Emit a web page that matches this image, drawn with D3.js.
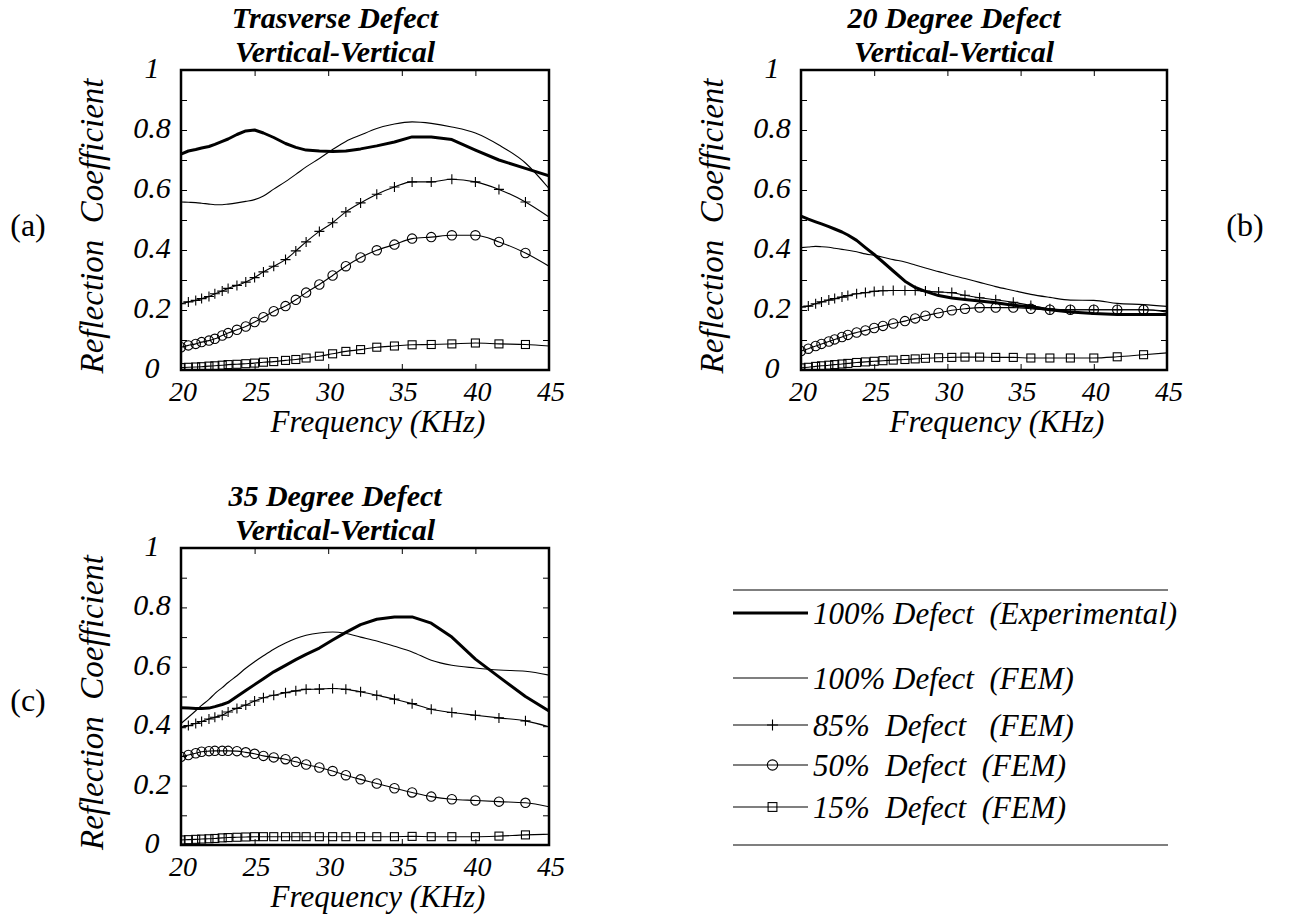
<!DOCTYPE html>
<html>
<head>
<meta charset="utf-8">
<script src="https://cdn.jsdelivr.net/npm/d3@7"></script>
</head>
<body style="margin:0;background:#fff">
<svg id="fig" width="1290" height="920" style="display:block"></svg>
<script>
// Frequency sample points (kHz); markers sit on every point except the last.
const freqKHz = [20, 20.5, 21, 21.4, 21.9, 22.3, 22.8, 23.2, 23.8, 24.4, 25, 25.6, 26.3, 27.1, 27.8,
                 28.5, 29.4, 30.3, 31.2, 32.2, 33.3, 34.5, 35.7, 37, 38.4, 40, 41.6, 43.4, 45];

// Axis ticks
const xTickValues = [20, 25, 30, 35, 40, 45];
const yTickValues = [0, 0.1, 0.2, 0.3, 0.4, 0.5, 0.6, 0.7, 0.8, 0.9, 1];
const yLabelValues = [0, 0.2, 0.4, 0.6, 0.8, 1];
const yLabelText = ["0", "0.2", "0.4", "0.6", "0.8", "1"];

// (a) Transverse defect
const expA    = [0.72, 0.73, 0.735, 0.74, 0.745, 0.752, 0.762, 0.77, 0.785, 0.797, 0.80, 0.79, 0.775, 0.755, 0.742,
                 0.733, 0.73, 0.728, 0.73, 0.737, 0.747, 0.76, 0.777, 0.777, 0.768, 0.733, 0.70, 0.672, 0.647];
const fem100A = [0.56, 0.559, 0.558, 0.556, 0.553, 0.551, 0.551, 0.553, 0.557, 0.562, 0.568, 0.58, 0.603, 0.628, 0.652,
                 0.677, 0.705, 0.735, 0.762, 0.783, 0.805, 0.82, 0.827, 0.822, 0.81, 0.79, 0.75, 0.69, 0.605];
const fem85A  = [0.221, 0.227, 0.232, 0.238, 0.245, 0.254, 0.263, 0.272, 0.282, 0.293, 0.308, 0.327, 0.346, 0.368, 0.397,
                 0.427, 0.462, 0.491, 0.527, 0.557, 0.586, 0.61, 0.627, 0.627, 0.636, 0.627, 0.602, 0.56, 0.51];
const fem50A  = [0.076, 0.082, 0.087, 0.093, 0.098, 0.104, 0.115, 0.123, 0.134, 0.145, 0.16, 0.176, 0.196, 0.213, 0.234,
                 0.258, 0.285, 0.315, 0.346, 0.375, 0.399, 0.418, 0.438, 0.443, 0.449, 0.449, 0.427, 0.39, 0.346];
const fem15A  = [0.008, 0.009, 0.01, 0.011, 0.013, 0.014, 0.016, 0.018, 0.019, 0.021, 0.023, 0.026, 0.028, 0.032, 0.035,
                 0.04, 0.046, 0.054, 0.062, 0.068, 0.076, 0.08, 0.084, 0.085, 0.087, 0.09, 0.087, 0.085, 0.08];

// (b) 20 degree defect
const expB    = [0.513, 0.503, 0.494, 0.487, 0.478, 0.47, 0.46, 0.45, 0.432, 0.408, 0.385, 0.36, 0.33, 0.296, 0.275,
                 0.262, 0.248, 0.24, 0.235, 0.23, 0.224, 0.216, 0.21, 0.201, 0.193, 0.188, 0.185, 0.185, 0.185];
const fem100B = [0.408, 0.41, 0.412, 0.411, 0.409, 0.406, 0.402, 0.399, 0.394, 0.387, 0.382, 0.376, 0.368, 0.36, 0.35,
                 0.34, 0.328, 0.316, 0.305, 0.292, 0.278, 0.265, 0.252, 0.242, 0.233, 0.232, 0.222, 0.218, 0.212];
const fem85B  = [0.21, 0.213, 0.221, 0.227, 0.233, 0.238, 0.243, 0.248, 0.254, 0.258, 0.262, 0.264, 0.265, 0.265, 0.265,
                 0.263, 0.26, 0.258, 0.249, 0.241, 0.234, 0.226, 0.215, 0.204, 0.201, 0.201, 0.201, 0.201, 0.196];
const fem50B  = [0.063, 0.071, 0.08, 0.087, 0.095, 0.102, 0.11, 0.117, 0.125, 0.132, 0.14, 0.147, 0.155, 0.163, 0.172,
                 0.181, 0.19, 0.199, 0.204, 0.208, 0.208, 0.208, 0.204, 0.201, 0.201, 0.201, 0.201, 0.201, 0.193];
const fem15B  = [0.007, 0.009, 0.012, 0.014, 0.016, 0.018, 0.02, 0.022, 0.025, 0.027, 0.029, 0.031, 0.033, 0.035, 0.037,
                 0.039, 0.041, 0.042, 0.043, 0.043, 0.042, 0.042, 0.04, 0.04, 0.04, 0.04, 0.044, 0.051, 0.057];

// (c) 35 degree defect
const expC    = [0.462, 0.461, 0.46, 0.46, 0.461, 0.466, 0.473, 0.48, 0.50, 0.52, 0.54, 0.56, 0.583, 0.605, 0.624,
                 0.642, 0.663, 0.69, 0.716, 0.742, 0.76, 0.768, 0.768, 0.747, 0.70, 0.626, 0.566, 0.5, 0.451];
const fem100C = [0.409, 0.43, 0.452, 0.47, 0.49, 0.51, 0.53, 0.547, 0.57, 0.595, 0.617, 0.637, 0.659, 0.68, 0.695,
                 0.706, 0.714, 0.717, 0.712, 0.70, 0.687, 0.669, 0.65, 0.622, 0.605, 0.596, 0.589, 0.585, 0.572];
const fem85C  = [0.395, 0.402, 0.409, 0.416, 0.424, 0.43, 0.437, 0.448, 0.46, 0.471, 0.485, 0.496, 0.504, 0.513, 0.519,
                 0.524, 0.525, 0.527, 0.524, 0.516, 0.504, 0.491, 0.476, 0.457, 0.446, 0.437, 0.428, 0.418, 0.398];
const fem50C  = [0.297, 0.303, 0.309, 0.314, 0.316, 0.317, 0.317, 0.317, 0.316, 0.312, 0.307, 0.30, 0.295, 0.289, 0.28,
                 0.271, 0.261, 0.249, 0.235, 0.221, 0.207, 0.191, 0.177, 0.163, 0.154, 0.15, 0.146, 0.142, 0.129];
const fem15C  = [0.017, 0.018, 0.019, 0.02, 0.021, 0.022, 0.024, 0.025, 0.026, 0.027, 0.028, 0.028, 0.028, 0.028, 0.028,
                 0.028, 0.028, 0.028, 0.028, 0.028, 0.028, 0.028, 0.029, 0.028, 0.028, 0.028, 0.03, 0.034, 0.036];

// Legend entries; \u00A0 keeps the wider word gaps
const seriesLabels = ["100% Defect\u00A0 (Experimental)", "100% Defect\u00A0 (FEM)", "85%\u00A0 Defect\u00A0\u00A0 (FEM)",
                      "50%\u00A0 Defect\u00A0 (FEM)", "15%\u00A0 Defect\u00A0 (FEM)"];
const seriesMarkers = ["none", "none", "plus", "circle", "square"];
const yTitle = "Reflection\u00A0 Coefficient";
const xTitle = "Frequency (KHz)";

const panels = [
  { tag: "(a)", title: ["Trasverse Defect", "Vertical-Vertical"], series: [expA, fem100A, fem85A, fem50A, fem15A],
    left: 181, top: 70, width: 368, height: 300, tagX: 28, tagY: 236 },
  { tag: "(b)", title: ["20 Degree Defect", "Vertical-Vertical"], series: [expB, fem100B, fem85B, fem50B, fem15B],
    left: 801, top: 70, width: 366, height: 300, tagX: 1245, tagY: 236 },
  { tag: "(c)", title: ["35 Degree Defect", "Vertical-Vertical"], series: [expC, fem100C, fem85C, fem50C, fem15C],
    left: 181, top: 548, width: 368, height: 297, tagX: 28, tagY: 711 }
];

const svg = d3.select("#fig");

function addText(parent, size, opts = {}) {
  return parent.append("text")
    .attr("font-family", "Liberation Serif")
    .attr("font-size", size)
    .attr("font-style", opts.italic === false ? "normal" : "italic")
    .attr("font-weight", opts.bold ? "bold" : "normal")
    .attr("fill", "#000");
}

function drawMarker(sel, type, r = 1) {
  if (type === "plus") {
    sel.append("path").attr("d", `M${-5 * r},0H${5 * r}M0,${-5 * r}V${5 * r}`)
      .attr("stroke", "#000").attr("stroke-width", 1.1).attr("fill", "none");
  } else if (type === "circle") {
    sel.append("circle").attr("r", 4.7 * r).attr("fill", "none").attr("stroke", "#000").attr("stroke-width", 1.1);
  } else if (type === "square") {
    sel.append("rect").attr("x", -4 * r).attr("y", -4 * r).attr("width", 8 * r).attr("height", 8 * r)
      .attr("fill", "none").attr("stroke", "#000").attr("stroke-width", 1.1);
  }
}

panels.forEach((p, pi) => {
  const x = d3.scaleLinear().domain([20, 45]).range([p.left, p.left + p.width]);
  const y = d3.scaleLinear().domain([0, 1]).range([p.top + p.height, p.top]);
  const g = svg.append("g");
  const clipId = "clip" + pi;
  svg.append("clipPath").attr("id", clipId).append("rect")
    .attr("x", p.left).attr("y", p.top).attr("width", p.width).attr("height", p.height);

  // inward ticks on all four sides
  const inner = xTickValues.slice(1, -1);
  const yInner = yTickValues.slice(1, -1);
  const axes = [
    [d3.axisBottom(x).tickValues(inner), 0, p.top + p.height],
    [d3.axisTop(x).tickValues(inner), 0, p.top],
    [d3.axisLeft(y).tickValues(yInner), p.left, 0],
    [d3.axisRight(y).tickValues(yInner), p.left + p.width, 0]
  ];
  axes.forEach(([ax, tx, ty]) => {
    const a = g.append("g").attr("transform", `translate(${tx},${ty})`)
      .call(ax.tickSize(-6).tickFormat(""));
    a.select(".domain").remove();
    a.selectAll(".tick line").attr("stroke", "#000").attr("stroke-width", 1);
  });

  // curves
  const curveG = g.append("g").attr("clip-path", `url(#${clipId})`);
  p.series.forEach((vals, si) => {
    const pts = freqKHz.map((f, i) => [f, vals[i]]);
    const line = d3.line().x(d => x(d[0])).y(d => y(d[1]))
      .curve(si === 0 ? d3.curveLinear : d3.curveMonotoneX);
    curveG.append("path").datum(pts).attr("d", line)
      .attr("fill", "none").attr("stroke", "#000")
      .attr("stroke-width", si === 0 ? 3 : 1.1).attr("stroke-linejoin", "round");
    if (seriesMarkers[si] !== "none") {
      pts.slice(0, -1).forEach(d => {
        const m = curveG.append("g").attr("transform", `translate(${x(d[0])},${y(d[1])})`);
        drawMarker(m, seriesMarkers[si]);
      });
    }
  });

  // frame
  g.append("rect").attr("x", p.left).attr("y", p.top).attr("width", p.width).attr("height", p.height)
    .attr("fill", "none").attr("stroke", "#000").attr("stroke-width", 2.5);

  // tick labels
  yLabelValues.forEach((v, i) => {
    addText(g, 30).attr("x", p.left - 29).attr("y", y(v) + 8)
      .attr("text-anchor", "middle").text(yLabelText[i]);
  });
  xTickValues.forEach(v => {
    addText(g, 28).attr("x", x(v) + 2).attr("y", p.top + p.height + 31)
      .attr("text-anchor", "middle").text(v);
  });

  // axis titles
  addText(g, 31).attr("x", p.left + p.width / 2 + 13).attr("y", p.top + p.height + 62)
    .attr("text-anchor", "middle").text(xTitle);
  const yc = p.top + p.height / 2 + 6;
  addText(g, 33).attr("transform", `translate(${p.left - 78},${yc}) rotate(-90)`)
    .attr("text-anchor", "middle").text(yTitle);

  // title
  p.title.forEach((t, i) => {
    addText(g, 30, { bold: true }).attr("x", p.left + p.width / 2 - 30).attr("y", p.top - 42 + i * 34)
      .attr("text-anchor", "middle").text(t);
  });

  // panel tag
  addText(g, 32, { italic: false }).attr("x", p.tagX).attr("y", p.tagY)
    .attr("text-anchor", "middle").text(p.tag);
});

// legend
const leg = svg.append("g");
const legLeft = 733, legRight = 1168, sampleEnd = 808;
const legRows = [613, 678, 725, 765, 807];
[590, 845].forEach(yy => {
  leg.append("line").attr("x1", legLeft).attr("x2", legRight).attr("y1", yy).attr("y2", yy)
    .attr("stroke", "#000").attr("stroke-width", 1.1);
});
seriesLabels.forEach((text, i) => {
  const yy = legRows[i];
  leg.append("line").attr("x1", legLeft).attr("x2", sampleEnd).attr("y1", yy).attr("y2", yy)
    .attr("stroke", "#000").attr("stroke-width", i === 0 ? 3 : 1.1);
  const m = leg.append("g").attr("transform", `translate(${(legLeft + sampleEnd) / 2 + 2},${yy})`);
  drawMarker(m, seriesMarkers[i], 1.1);
  addText(leg, 31).attr("x", sampleEnd + 5).attr("y", yy + 11).text(text);
});
</script>
</body>
</html>
